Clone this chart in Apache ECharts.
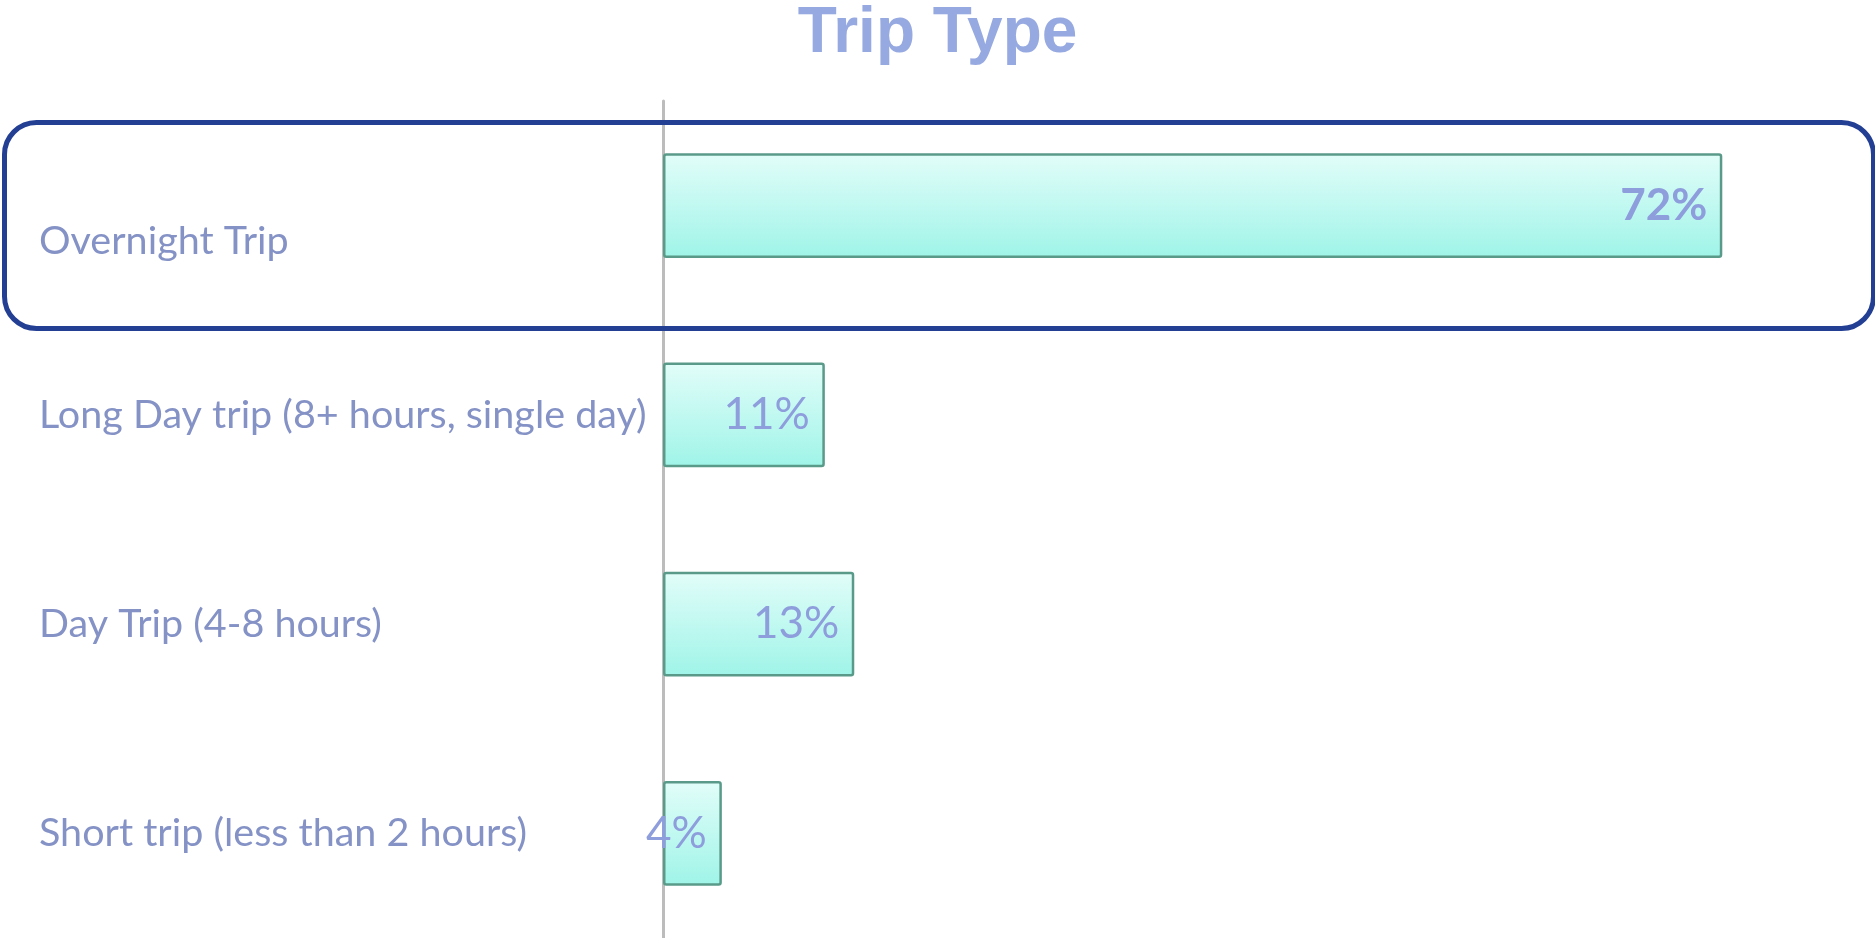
<!DOCTYPE html>
<html>
<head>
<meta charset="utf-8">
<title>Trip Type</title>
<script src="https://cdn.jsdelivr.net/npm/echarts@6/dist/echarts.min.js"></script>
<style>
  html, body { margin: 0; padding: 0; background: #ffffff; }
  #chart { width: 1875px; height: 938px; }
</style>
</head>
<body>
<div id="chart"></div>
<script>
// Share of respondents by trip type
const categories = [
  'Overnight Trip',
  'Long Day trip (8+ hours, single day)',
  'Day Trip (4-8 hours)',
  'Short trip (less than 2 hours)'
];
const shares = [72, 11, 13, 4];
const titleText = 'Trip Type';

const labelFont = 'Lato, "Open Sans", sans-serif';
const labelColor = '#8492c6';
const valueColor = '#8e9ddc';

const chart = echarts.init(document.getElementById('chart'), null, { renderer: 'canvas' });

const option = {
  backgroundColor: '#ffffff',
  animation: false,
  title: {
    text: titleText,
    left: 'center',
    top: -3,
    textStyle: {
      fontFamily: '"Liberation Sans", Arial, sans-serif',
      fontSize: 64,
      fontWeight: 'bold',
      color: '#96a9e0'
    }
  },
  grid: { left: 663, top: 101, width: 1177, height: 838, containLabel: false },
  xAxis: {
    type: 'value',
    min: 0,
    max: 80,
    show: false
  },
  yAxis: {
    type: 'category',
    data: categories,
    inverse: true,
    axisLine: { show: true, lineStyle: { color: '#bcbcbc', width: 3 } },
    axisTick: { show: false },
    splitLine: { show: false },
    axisLabel: {
      align: 'left',
      margin: 624,
      fontFamily: labelFont,
      fontSize: 39.5,
      color: labelColor,
      // the first (highlighted) category sits a little lower inside its frame
      formatter: (v, i) => (i === 0 ? '{lead|' + v + '}' : v),
      rich: {
        lead: {
          fontFamily: labelFont,
          fontSize: 39.5,
          color: labelColor,
          padding: [72, 0, 0, 0]
        }
      }
    }
  },
  series: [{
    type: 'bar',
    data: shares.map((v, i) => (i === 0 ? { value: v, label: { fontWeight: 'bold' } } : v)),
    barCategoryGap: '50%',
    itemStyle: {
      color: new echarts.graphic.LinearGradient(0, 0, 0, 1, [
        { offset: 0, color: '#e2fdf9' },
        { offset: 1, color: '#9ff4e8' }
      ]),
      borderColor: '#5a9a89',
      borderWidth: 2.5,
      borderRadius: 2
    },
    label: {
      show: true,
      position: 'insideRight',
      distance: 15,
      formatter: '{c}%',
      fontFamily: labelFont,
      fontSize: 44,
      color: valueColor
    }
  }],
  graphic: [{
    type: 'rect',
    left: 2,
    top: 120,
    shape: { width: 1869, height: 206, r: 32 },
    style: { fill: 'none', stroke: '#233f94', lineWidth: 5 },
    z: 10
  }]
};

chart.setOption(option);
</script>
</body>
</html>
